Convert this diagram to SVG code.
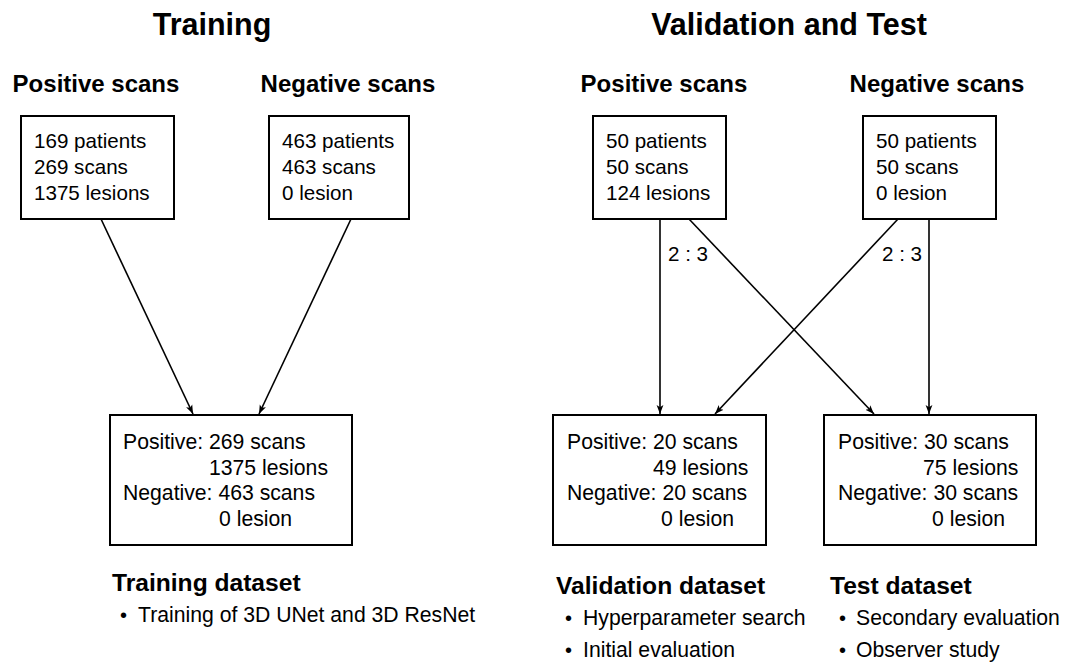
<svg xmlns="http://www.w3.org/2000/svg" width="1072" height="663" viewBox="0 0 1072 663">
  <style>
    text { font-family: "Liberation Sans", Arial, sans-serif; fill: #000; }
    .title { font-size: 30.5px; font-weight: bold; text-anchor: middle; }
    .head { font-size: 24.6px; font-weight: bold; }
    .headc { font-size: 24px; font-weight: bold; text-anchor: middle; }
    .body { font-size: 20.6px; }
    .body2 { font-size: 21.2px; }
    .dot { font-size: 20px; }
    .box { fill: #fff; stroke: #000; stroke-width: 2; }
    .edge { stroke: #000; stroke-width: 1.6; fill: none; marker-end: url(#arrow); }
  </style>
  <defs>
    <marker id="arrow" markerUnits="userSpaceOnUse" markerWidth="10" markerHeight="8" refX="9" refY="4" orient="auto">
      <path d="M0,0.6 L9,4 L0,7.4 L2.2,4 z" fill="#000"/>
    </marker>
  </defs>

  <rect width="1072" height="663" fill="#fff"/>

  <!-- section titles -->
  <text class="title" x="212" y="35">Training</text>
  <text class="title" x="789" y="35">Validation and Test</text>

  <!-- column headings -->
  <text class="headc" x="96" y="92">Positive scans</text>
  <text class="headc" x="348" y="92">Negative scans</text>
  <text class="headc" x="664" y="92">Positive scans</text>
  <text class="headc" x="937" y="92">Negative scans</text>

  <!-- connectors -->
  <g id="connectors">
    <line class="edge" x1="101" y1="219" x2="193" y2="414"/>
    <line class="edge" x1="351" y1="219" x2="259" y2="414"/>
    <line class="edge" x1="660" y1="219" x2="660" y2="414"/>
    <line class="edge" x1="689" y1="219" x2="874" y2="414"/>
    <line class="edge" x1="898" y1="219" x2="715" y2="414"/>
    <line class="edge" x1="929" y1="219" x2="929" y2="414"/>
    <text class="body" x="668" y="261">2 : 3</text>
    <text class="body" x="882" y="261">2 : 3</text>
  </g>

  <!-- training sources -->
  <g id="train-pos">
    <rect class="box" x="21" y="116" width="153" height="103"/>
    <text class="body" x="34" y="148">169 patients</text>
    <text class="body" x="34" y="174">269 scans</text>
    <text class="body" x="34" y="200">1375 lesions</text>
  </g>
  <g id="train-neg">
    <rect class="box" x="269" y="116" width="140" height="103"/>
    <text class="body" x="282" y="148">463 patients</text>
    <text class="body" x="282" y="174">463 scans</text>
    <text class="body" x="282" y="200">0 lesion</text>
  </g>

  <!-- validation/test sources -->
  <g id="vt-pos">
    <rect class="box" x="593" y="116" width="133" height="103"/>
    <text class="body" x="606" y="148">50 patients</text>
    <text class="body" x="606" y="174">50 scans</text>
    <text class="body" x="606" y="200">124 lesions</text>
  </g>
  <g id="vt-neg">
    <rect class="box" x="863" y="116" width="133" height="103"/>
    <text class="body" x="876" y="148">50 patients</text>
    <text class="body" x="876" y="174">50 scans</text>
    <text class="body" x="876" y="200">0 lesion</text>
  </g>

  <!-- training dataset -->
  <g id="train-set">
    <rect class="box" x="110" y="415" width="242" height="130"/>
    <text class="body2" x="123" y="449">Positive: 269 scans</text>
    <text class="body2" x="209" y="475">1375 lesions</text>
    <text class="body2" x="123" y="500">Negative: 463 scans</text>
    <text class="body2" x="219" y="526">0 lesion</text>
    <text class="head" x="112" y="591">Training dataset</text>
    <text class="dot" x="120" y="622">•</text>
    <text class="body2" x="138" y="622">Training of 3D UNet and 3D ResNet</text>
  </g>

  <!-- validation dataset -->
  <g id="val-set">
    <rect class="box" x="553" y="415" width="213" height="130"/>
    <text class="body2" x="567" y="449">Positive: 20 scans</text>
    <text class="body2" x="653" y="475">49 lesions</text>
    <text class="body2" x="567" y="500">Negative: 20 scans</text>
    <text class="body2" x="661" y="526">0 lesion</text>
    <text class="head" x="556" y="594">Validation dataset</text>
    <text class="dot" x="565" y="625">•</text>
    <text class="body2" x="583" y="625">Hyperparameter search</text>
    <text class="dot" x="565" y="657">•</text>
    <text class="body2" x="583" y="657">Initial evaluation</text>
  </g>

  <!-- test dataset -->
  <g id="test-set">
    <rect class="box" x="824" y="415" width="212" height="130"/>
    <text class="body2" x="838" y="449">Positive: 30 scans</text>
    <text class="body2" x="923" y="475">75 lesions</text>
    <text class="body2" x="838" y="500">Negative: 30 scans</text>
    <text class="body2" x="932" y="526">0 lesion</text>
    <text class="head" x="830" y="594">Test dataset</text>
    <text class="dot" x="839" y="625">•</text>
    <text class="body2" x="856" y="625">Secondary evaluation</text>
    <text class="dot" x="839" y="657">•</text>
    <text class="body2" x="856" y="657">Observer study</text>
  </g>
</svg>
